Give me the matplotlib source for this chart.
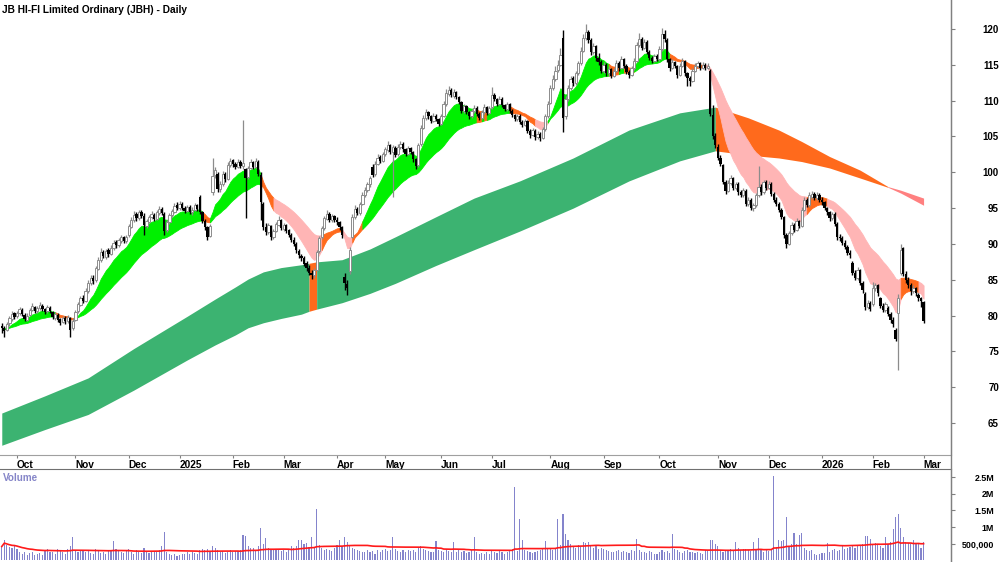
import numpy as np
import pandas as pd
import matplotlib
matplotlib.use('Agg')
import matplotlib.pyplot as plt
from matplotlib.lines import Line2D

plt.rcParams['font.family'] = ['Liberation Sans', 'DejaVu Sans']

# ASX trading days shown on the chart
holidays = ['2024-12-25', '2024-12-26', '2025-01-01', '2025-01-27', '2025-04-18',
            '2025-04-21', '2025-04-25', '2025-06-09', '2025-12-25', '2025-12-26',
            '2026-01-01', '2026-01-26']
dates = pd.bdate_range('2024-09-23', '2026-03-02')
dates = dates[~dates.isin(pd.to_datetime(holidays))]

# daily prices
opens = [
    78.6, 78.3, 78.0, 78.9, 79.5, 80.3, 79.9, 80.3, 80.8, 80.1,
    79.4, 80.1, 80.8, 81.2, 80.6, 81.0, 81.4, 80.9, 80.6, 81.1,
    80.5, 79.7, 80.1, 79.5, 79.1, 79.7, 79.2, 79.6, 78.2, 79.4,
    80.6, 81.5, 82.5, 82.1, 83.4, 84.5, 85.3, 84.9, 86.5, 87.7,
    88.9, 88.2, 89.1, 88.6, 89.4, 90.3, 89.8, 90.4, 90.9, 90.4,
    91.2, 92.4, 93.3, 94.2, 93.6, 94.4, 93.9, 92.5, 93.1, 93.7,
    94.1, 93.5, 94.3, 94.9, 94.2, 91.9, 93.0, 94.0, 94.5, 95.4,
    95.0, 95.6, 95.0, 94.6, 95.2, 94.4, 94.8, 95.4, 96.6, 94.4,
    93.2, 92.3, 91.1, 97.2, 99.6, 99.8, 97.6, 98.4, 99.8, 99.1,
    101.0, 101.7, 101.2, 100.8, 101.4, 100.9, 100.4, 99.3, 100.6, 101.4,
    100.8, 101.5, 99.6, 95.6, 92.4, 91.7, 92.5, 91.0, 91.8, 92.7,
    93.3, 92.1, 92.6, 91.9, 91.2, 90.6, 90.0, 89.0, 88.3, 88.0,
    87.3, 86.7, 86.0, 85.6, 86.4, 89.0, 90.9, 92.2, 93.5, 94.2,
    93.3, 93.9, 93.4, 93.0, 92.3, 85.4, 84.4, 86.2, 91.0, 93.8,
    94.9, 94.3, 95.6, 96.8, 97.5, 98.3, 100.8, 99.7, 101.2, 102.1,
    101.6, 102.5, 103.1, 103.8, 102.9, 103.4, 102.5, 103.5, 104.0, 103.2,
    102.6, 103.4, 102.8, 101.8, 101.0, 103.9, 106.2, 107.6, 108.4, 107.8,
    107.2, 107.9, 107.4, 106.8, 107.9, 109.5, 110.9, 111.5, 110.7, 111.2,
    110.5, 109.8, 108.6, 109.2, 108.4, 107.8, 108.5, 109.0, 108.2, 107.6,
    108.4, 109.1, 108.3, 109.1, 110.8, 110.2, 109.6, 110.3, 109.4, 108.8,
    109.5, 108.6, 108.0, 107.4, 107.9, 107.0, 106.6, 107.1, 105.8, 105.2,
    105.8, 104.9, 105.4, 104.8, 106.0, 107.8, 109.7, 111.8, 113.0, 114.3,
    115.0, 118.8, 107.8, 110.2, 111.8, 113.1, 112.4, 113.8, 115.2, 117.0,
    118.8, 119.6, 118.4, 116.8, 117.6, 116.0, 115.4, 114.2, 115.0, 113.8,
    114.4, 113.5, 114.2, 115.3, 114.6, 115.8, 114.9, 114.0, 113.6, 114.5,
    115.6, 117.8, 118.6, 117.4, 118.2, 116.8, 116.0, 115.6, 116.2, 115.8,
    117.2, 119.3, 118.5, 115.8, 114.6, 115.4, 114.8, 113.6, 114.9, 115.5,
    113.8, 113.2, 112.8, 114.2, 114.8, 115.2, 114.6, 115.0, 114.6, 114.2,
    108.0, 105.0, 103.6, 102.0, 101.0, 98.6, 97.4, 98.5, 99.2, 97.8,
    98.4, 97.2, 96.8, 97.4, 95.6, 96.2, 95.0, 95.4, 96.8, 98.0,
    97.2, 98.6, 97.8, 98.4, 97.0, 96.2, 95.6, 94.8, 93.7, 91.2,
    90.0, 91.5, 92.6, 92.0, 93.2, 92.5, 94.8, 96.2, 95.4, 96.6,
    97.0, 96.4, 96.9, 96.2, 95.8, 95.0, 94.4, 93.6, 94.2, 92.8,
    91.0, 90.8, 90.2, 89.6, 88.8, 87.4, 86.0, 85.2, 86.3, 84.6,
    83.0, 81.2, 81.8, 81.6, 83.8, 84.2, 82.4, 81.4, 80.8, 81.0,
    80.2, 79.4, 78.0, 80.4, 86.0, 89.4, 85.8, 85.0, 84.2, 83.4,
    83.8, 82.9, 82.5, 81.9]

highs = [
    78.9, 78.5, 79.1, 80.0, 80.6, 80.5, 80.7, 81.2, 81.0, 80.3,
    80.3, 81.1, 81.7, 81.4, 81.3, 81.9, 81.6, 81.1, 81.5, 81.3,
    80.7, 80.5, 80.3, 79.7, 79.9, 79.9, 80.1, 79.8, 79.6, 80.8,
    81.9, 82.8, 82.9, 83.8, 85.0, 85.6, 85.7, 86.9, 88.2, 89.4,
    89.2, 89.3, 89.4, 89.8, 90.6, 90.5, 90.8, 91.3, 91.1, 91.3,
    92.8, 93.7, 94.6, 94.4, 94.8, 94.7, 94.3, 93.5, 94.1, 94.6,
    94.3, 94.7, 95.3, 95.1, 94.5, 93.4, 94.3, 94.9, 95.7, 95.8,
    96.0, 95.8, 95.3, 95.5, 95.4, 95.1, 95.7, 95.6, 96.9, 94.6,
    93.5, 92.5, 92.8, 102.0, 100.8, 100.0, 98.8, 100.2, 100.1, 101.4,
    102.0, 101.9, 101.5, 101.8, 101.7, 107.3, 100.6, 100.9, 101.8, 101.6,
    102.0, 101.7, 100.0, 95.8, 92.9, 92.9, 92.7, 92.1, 93.1, 93.9,
    93.5, 92.9, 92.8, 92.1, 91.5, 90.9, 90.3, 89.3, 88.6, 88.3,
    87.6, 87.0, 86.4, 86.6, 89.2, 91.1, 92.5, 93.9, 94.7, 94.4,
    94.2, 94.1, 93.8, 93.2, 92.5, 86.0, 85.0, 89.6, 94.2, 95.4,
    95.2, 95.9, 97.2, 98.0, 98.7, 99.5, 101.1, 101.6, 102.6, 102.4,
    102.9, 103.6, 104.3, 104.0, 103.8, 103.7, 103.9, 104.4, 104.2, 103.4,
    103.7, 103.6, 103.0, 102.0, 104.1, 106.6, 108.0, 108.8, 108.6, 108.0,
    108.3, 108.1, 107.6, 108.1, 109.9, 111.6, 112.0, 111.7, 111.6, 111.4,
    110.7, 110.0, 109.5, 109.4, 108.6, 108.9, 109.4, 109.2, 108.4, 108.7,
    109.5, 109.3, 109.3, 111.9, 111.1, 110.4, 110.7, 110.5, 109.6, 109.8,
    109.7, 108.8, 108.2, 108.2, 108.1, 107.3, 107.5, 107.3, 106.0, 106.2,
    106.0, 105.7, 105.6, 106.3, 108.2, 110.0, 112.2, 113.6, 114.8, 115.7,
    117.3, 119.9, 110.6, 112.2, 113.5, 113.4, 114.2, 115.6, 117.5, 119.3,
    120.7, 119.9, 118.7, 118.0, 117.8, 116.6, 115.7, 115.4, 115.3, 114.8,
    114.6, 114.6, 115.7, 115.5, 116.2, 116.0, 115.1, 114.3, 114.8, 115.9,
    118.2, 119.4, 118.9, 118.6, 118.4, 117.1, 116.3, 116.5, 116.5, 117.6,
    120.1, 119.8, 118.7, 116.0, 115.8, 115.6, 115.0, 115.3, 115.9, 115.7,
    114.0, 113.5, 114.5, 115.2, 115.6, 115.4, 115.4, 115.2, 115.2, 114.4,
    109.4, 105.5, 103.9, 102.4, 101.2, 98.9, 98.9, 99.6, 99.4, 98.7,
    98.6, 97.5, 97.8, 97.6, 96.5, 96.4, 95.7, 97.1, 100.9, 98.3,
    98.9, 98.9, 98.8, 98.6, 97.2, 96.5, 95.8, 95.0, 93.9, 91.5,
    91.8, 93.0, 92.9, 93.6, 93.4, 95.1, 96.6, 96.4, 97.2, 97.4,
    97.2, 97.2, 97.1, 96.5, 96.0, 95.2, 94.6, 94.5, 94.5, 93.0,
    91.4, 91.1, 90.5, 89.8, 89.1, 87.6, 86.4, 86.8, 86.5, 84.8,
    83.3, 82.2, 82.0, 84.7, 84.6, 84.4, 82.6, 81.8, 81.9, 81.3,
    80.5, 79.8, 78.3, 83.0, 90.0, 89.6, 86.2, 85.4, 84.5, 84.2,
    84.0, 83.2, 82.6, 82.0]

lows = [
    77.6, 77.0, 77.8, 78.6, 79.3, 79.5, 79.6, 80.1, 79.9, 79.2,
    79.2, 79.9, 80.6, 80.4, 80.3, 80.8, 80.6, 80.2, 80.4, 80.3,
    79.5, 79.4, 79.1, 78.7, 78.9, 78.8, 79.0, 77.0, 78.0, 79.2,
    80.4, 81.3, 81.7, 81.9, 83.2, 84.2, 84.4, 84.7, 86.3, 87.5,
    88.0, 87.9, 88.2, 88.4, 89.2, 89.5, 89.6, 90.2, 90.1, 90.2,
    91.0, 92.2, 93.1, 93.2, 93.4, 93.6, 91.2, 92.2, 92.9, 93.5,
    93.2, 93.3, 94.1, 94.0, 91.2, 91.7, 92.8, 93.8, 94.3, 94.7,
    94.8, 94.7, 94.3, 94.4, 94.2, 94.1, 94.6, 94.6, 94.2, 92.9,
    92.0, 90.5, 90.9, 96.9, 99.2, 97.2, 97.3, 98.1, 98.6, 98.9,
    100.7, 100.8, 100.5, 100.6, 100.6, 100.4, 93.6, 99.0, 100.4, 100.5,
    100.6, 99.5, 93.4, 92.0, 91.2, 91.4, 90.6, 90.7, 91.6, 92.5,
    91.9, 91.8, 91.5, 90.9, 90.3, 89.7, 88.8, 88.1, 87.6, 86.9,
    86.2, 85.6, 85.1, 85.3, 86.2, 88.8, 90.7, 92.0, 93.3, 93.0,
    93.1, 93.1, 92.7, 92.0, 90.8, 83.6, 82.9, 85.8, 90.8, 93.5,
    94.0, 94.1, 95.4, 96.5, 97.3, 98.0, 99.3, 99.5, 101.0, 101.3,
    101.4, 102.3, 102.9, 102.6, 96.5, 102.1, 102.3, 103.3, 102.9, 102.3,
    102.4, 102.5, 101.5, 100.5, 100.8, 103.7, 106.0, 107.3, 107.5, 106.9,
    107.0, 107.1, 106.4, 106.6, 107.7, 109.3, 110.6, 110.5, 110.4, 110.2,
    109.5, 108.3, 108.3, 108.1, 107.4, 107.6, 108.3, 107.9, 107.3, 107.4,
    108.2, 108.0, 108.1, 108.9, 109.9, 109.3, 109.4, 109.1, 108.5, 108.6,
    108.3, 107.7, 107.1, 107.2, 106.7, 106.3, 106.4, 105.5, 104.8, 105.0,
    104.5, 104.6, 104.4, 104.6, 105.8, 107.6, 109.5, 111.5, 112.8, 114.0,
    114.8, 105.6, 107.4, 109.9, 111.5, 112.0, 112.2, 113.6, 115.0, 116.8,
    118.5, 118.0, 116.4, 116.5, 115.6, 115.0, 113.8, 113.9, 113.4, 113.5,
    113.1, 113.3, 114.0, 114.2, 114.4, 114.6, 113.7, 113.2, 113.4, 114.3,
    115.4, 117.5, 117.1, 117.2, 116.5, 115.7, 115.3, 115.4, 115.5, 115.6,
    117.0, 118.2, 115.4, 114.2, 114.4, 114.5, 113.2, 113.4, 114.7, 113.4,
    112.0, 112.1, 112.6, 114.0, 114.5, 114.3, 114.4, 114.3, 114.4, 107.8,
    104.6, 103.4, 101.7, 100.9, 98.3, 97.0, 97.2, 98.2, 97.5, 97.5,
    96.9, 96.5, 96.6, 95.3, 95.3, 94.7, 94.6, 95.2, 96.6, 96.9,
    97.0, 97.5, 97.6, 96.7, 95.9, 95.3, 94.5, 93.5, 90.8, 89.4,
    89.8, 91.3, 91.7, 91.8, 92.2, 92.3, 94.6, 95.1, 95.2, 96.3,
    96.1, 96.2, 95.9, 95.5, 94.7, 94.0, 93.2, 93.4, 92.5, 90.6,
    90.4, 89.9, 89.3, 88.5, 88.1, 85.6, 84.9, 85.0, 84.3, 83.2,
    80.8, 80.9, 80.6, 81.4, 83.4, 82.8, 81.1, 80.5, 80.5, 79.9,
    79.0, 78.4, 76.4, 72.4, 85.6, 85.5, 84.6, 83.8, 82.9, 83.1,
    82.8, 82.0, 81.2, 78.9]

closes = [
    78.2, 77.9, 78.8, 79.6, 80.2, 79.8, 80.4, 80.9, 80.2, 79.5,
    80.0, 80.8, 81.3, 80.7, 81.0, 81.5, 80.9, 80.5, 81.2, 80.6,
    79.8, 80.2, 79.4, 79.0, 79.6, 79.2, 79.8, 78.0, 79.3, 80.5,
    81.6, 82.4, 82.0, 83.5, 84.6, 85.2, 84.8, 86.6, 87.8, 88.9,
    88.3, 89.0, 88.6, 89.5, 90.2, 89.8, 90.5, 90.9, 90.4, 91.0,
    92.5, 93.4, 94.1, 93.6, 94.4, 93.9, 92.6, 93.2, 93.8, 94.2,
    93.5, 94.4, 94.9, 94.3, 91.8, 93.1, 94.0, 94.6, 95.3, 95.0,
    95.6, 95.0, 94.6, 95.2, 94.5, 94.8, 95.4, 94.9, 94.5, 93.2,
    92.4, 91.0, 92.5, 99.5, 100.3, 97.6, 98.4, 99.8, 99.0, 101.0,
    101.6, 101.2, 100.8, 101.5, 100.9, 101.3, 99.2, 100.6, 101.4, 100.8,
    101.6, 99.8, 95.8, 92.4, 91.6, 92.6, 91.0, 91.8, 92.8, 93.4,
    92.2, 92.6, 91.8, 91.2, 90.6, 90.0, 89.1, 88.4, 88.0, 87.2,
    86.6, 86.0, 85.6, 86.3, 88.9, 90.8, 92.2, 93.6, 94.2, 93.3,
    93.9, 93.4, 93.0, 92.4, 91.2, 84.6, 83.8, 89.2, 93.8, 94.9,
    94.3, 95.6, 96.8, 97.5, 98.3, 99.2, 99.6, 101.2, 102.0, 101.6,
    102.5, 103.2, 103.8, 102.9, 103.5, 102.4, 103.6, 104.0, 103.2, 102.6,
    103.4, 102.8, 101.8, 100.9, 103.8, 106.2, 107.6, 108.4, 107.8, 107.2,
    107.9, 107.4, 106.8, 107.8, 109.5, 111.0, 111.5, 110.8, 111.2, 110.5,
    109.8, 108.6, 109.2, 108.4, 107.8, 108.6, 109.0, 108.2, 107.6, 108.4,
    109.1, 108.3, 109.0, 110.8, 110.2, 109.6, 110.3, 109.4, 108.8, 109.5,
    108.6, 108.0, 107.4, 107.9, 107.0, 106.6, 107.2, 105.8, 105.2, 105.9,
    104.9, 105.4, 104.8, 106.0, 107.8, 109.6, 111.8, 113.0, 114.2, 115.0,
    116.4, 107.6, 110.2, 111.8, 113.0, 112.4, 113.8, 115.2, 117.0, 118.8,
    119.6, 118.4, 116.8, 117.6, 116.0, 115.4, 114.2, 115.0, 113.8, 114.4,
    113.5, 114.2, 115.3, 114.6, 115.8, 114.9, 114.0, 113.6, 114.5, 115.6,
    117.8, 118.6, 117.4, 118.2, 116.8, 116.0, 115.6, 116.2, 115.8, 117.2,
    119.3, 118.6, 115.8, 114.6, 115.4, 114.8, 113.6, 114.9, 115.5, 113.8,
    113.2, 112.8, 114.2, 114.8, 115.2, 114.6, 115.0, 114.6, 114.9, 108.2,
    105.0, 103.8, 102.0, 101.2, 98.6, 97.4, 98.5, 99.2, 97.8, 98.4,
    97.2, 96.8, 97.5, 95.6, 96.2, 95.0, 95.4, 96.8, 98.0, 97.2,
    98.6, 97.8, 98.4, 97.0, 96.2, 95.6, 94.8, 93.8, 91.2, 90.0,
    91.5, 92.6, 92.0, 93.2, 92.5, 94.8, 96.2, 95.4, 96.8, 97.0,
    96.4, 96.9, 96.2, 95.8, 95.0, 94.4, 93.6, 94.2, 92.8, 91.0,
    90.8, 90.2, 89.6, 88.8, 88.4, 86.0, 85.2, 86.4, 84.6, 83.6,
    81.2, 81.8, 80.9, 83.8, 84.2, 83.2, 81.4, 80.8, 81.6, 80.2,
    79.4, 78.8, 76.8, 82.4, 89.2, 85.8, 85.0, 84.2, 83.4, 83.8,
    83.2, 82.4, 82.0, 79.2]

# daily volume, thousands of shares
volumes_k = [
    420, 620, 450, 400, 380, 420, 330, 260, 200, 240,
    170, 210, 260, 150, 180, 220, 160, 300, 350, 260,
    250, 200, 330, 280, 240, 190, 350, 420, 710, 300,
    260, 310, 280, 240, 300, 220, 180, 330, 270, 210,
    250, 190, 280, 320, 590, 330, 280, 240, 220, 300,
    350, 240, 200, 310, 260, 230, 380, 290, 220, 260,
    280, 250, 300, 420, 840, 260, 180, 150, 190, 130,
    170, 200, 180, 240, 190, 260, 230, 200, 300, 330,
    310, 350, 280, 420, 380, 300, 250, 280, 230, 260,
    300, 250, 270, 280, 320, 760, 740, 420, 360, 380,
    300, 420, 980, 500, 680, 380, 320, 350, 300, 330,
    280, 300, 260, 340, 420, 380, 440, 620, 600, 480,
    520, 400, 700, 380, 1530, 450, 380, 300, 340, 320,
    280, 360, 450, 600, 420, 700, 560, 420, 380, 330,
    300, 280, 250, 260, 300, 240, 280, 200, 320, 260,
    300, 350, 280, 320, 710, 330, 280, 250, 300, 260,
    310, 280, 300, 260, 380, 420, 350, 300, 280, 250,
    240, 590, 300, 270, 250, 330, 280, 240, 560, 260,
    300, 250, 280, 220, 260, 300, 700, 240, 200, 230,
    180, 250, 200, 300, 260, 220, 280, 250, 200, 240,
    300, 350, 2200, 280, 1230, 600, 300, 280, 250, 230,
    260, 280, 300, 330, 570, 350, 340, 300, 380, 1230,
    460, 1380, 780, 600, 500, 420, 380, 450, 400, 560,
    520, 540, 460, 380, 420, 350, 380, 330, 300, 280,
    260, 250, 280, 300, 240, 280, 260, 230, 300, 280,
    650, 300, 260, 240, 220, 280, 250, 200, 180, 240,
    300, 260, 280, 230, 800, 330, 300, 250, 220, 270,
    300, 260, 240, 220, 250, 230, 200, 300, 280, 620,
    600, 500, 420, 300, 250, 280, 320, 350, 300, 540,
    380, 300, 350, 330, 320, 280, 550, 300, 660, 330,
    260, 300, 280, 330, 2530, 400, 600, 580, 610, 1300,
    420, 500, 810, 480, 760, 830, 380, 320, 280, 300,
    200, 160, 180, 210, 230, 510, 260, 300, 330, 280,
    300, 420, 350, 380, 400, 450, 380, 420, 460, 500,
    740, 740, 650, 480, 520, 460, 420, 380, 700, 480,
    560, 950, 1300, 1380, 980, 700, 560, 520, 480, 600,
    500, 520, 380, 560]

# long-term band edges (bar index, upper, lower)
long_idx = [0, 17, 34, 52, 73, 84, 92, 97, 103, 110, 118, 121, 124, 134, 145, 155,
            171, 186, 204, 225, 247, 267, 281, 294, 306, 315, 326, 338, 349, 354, 363]
long_top = [66.4, 68.8, 71.3, 75.4, 79.9, 82.3, 84.0, 85.1, 86.1, 86.7, 87.1, 87.3,
            87.5, 87.8, 89.3, 91.0, 93.8, 96.4, 98.8, 102.0, 105.9, 108.3, 109.1,
            107.6, 105.9, 104.3, 102.2, 100.3, 98.0, 97.5, 96.4]
long_bot = [61.9, 64.1, 66.2, 69.6, 73.8, 75.9, 77.3, 78.3, 79.0, 79.6, 80.2, 80.6,
            80.9, 81.8, 83.1, 84.5, 87.0, 89.2, 91.8, 95.0, 98.8, 101.6, 103.0,
            102.4, 102.0, 101.5, 100.6, 99.2, 97.9, 97.1, 95.4]
long_phases = [(0, 121, 'up'), (121, 124, 'mixed'), (124, 281, 'up'),
               (281, 349, 'mixed'), (349, 363, 'down')]

short_periods = [10, 12, 15, 19, 24, 30]

n = len(dates)
x = np.arange(n)
o = np.array(opens)
h = np.array(highs)
l = np.array(lows)
c = np.array(closes)
vol = np.array(volumes_k) * 1000.0

fig = plt.figure(figsize=(10, 5.62), dpi=100)
ax = fig.add_axes([0, 107 / 562, 0.951, 455 / 562])
axv = fig.add_axes([0, 0, 0.951, 93 / 562])

# long band
long_col = {'up': '#3cb371', 'mixed': '#ff6a1c', 'down': '#ff8080'}
li = np.array(long_idx)
for a, b, st in long_phases:
    m = (li >= a) & (li <= b)
    ax.fill_between(li[m], np.array(long_bot)[m], np.array(long_top)[m],
                    color=long_col[st], lw=0, zorder=1)

# short band from the closes
emas = np.array([pd.Series(c).ewm(span=p, adjust=False).mean().values for p in short_periods])
d = np.diff(emas, axis=0)
state = np.where((d < 0).all(axis=0), 0, np.where((d > 0).all(axis=0), 2, 1))
hi = emas.max(axis=0)
lo = emas.min(axis=0)
short_col = {0: '#00f000', 1: '#ff6a1c', 2: '#ffb5b5'}
start = 0
for i in range(1, n + 1):
    if i == n or state[i] != state[start]:
        a = max(start - 1, 0)
        ax.fill_between(x[a:i], lo[a:i], hi[a:i], color=short_col[state[start]],
                        lw=0.6, edgecolor=short_col[state[start]], zorder=2)
        start = i

# candles
up = c >= o
ax.vlines(x[up], l[up], h[up], color='#8c8c8c', lw=0.9, zorder=3)
ax.vlines(x[~up], l[~up], h[~up], color='black', lw=1.0, zorder=3)
ax.bar(x[up], c[up] - o[up], bottom=o[up], width=0.9, facecolor='white',
       edgecolor='#8c8c8c', lw=0.7, zorder=4)
ax.bar(x[~up], o[~up] - c[~up], bottom=c[~up], width=0.9, color='black', lw=0, zorder=4)

ax.set_xlim(-0.7, 373.8)
ax.set_ylim(60.54, 124.05)

# month axis
month_start = [i for i in range(1, n) if dates[i].month != dates[i - 1].month]
labels = [str(dt.year) if dt.month == 1 else dt.strftime('%b') for dt in dates[month_start]]
ax.set_xticks(month_start)
ax.set_xticklabels(labels, ha='left', fontsize=7.3, fontweight='bold')
ax.tick_params(axis='x', length=2, width=0.8, color='#808080', pad=1.5)

ax.yaxis.tick_right()
ax.set_yticks(range(65, 121, 5))
ax.tick_params(axis='y', length=3, width=0.8, color='#808080', pad=31.5, labelsize=7)
for t in ax.get_yticklabels():
    t.set_horizontalalignment('right')
    t.set_fontweight('bold')

for s in ['top', 'left']:
    ax.spines[s].set_visible(False)
ax.spines['bottom'].set_color('#a0a0a0')
ax.spines['right'].set_color('#808080')

# volume panel
axv.bar(x, vol, width=0.45, color='#8484cc', lw=0)
vma = pd.Series(vol).rolling(50, min_periods=1).mean()
axv.plot(x, vma, color='#ff1a1a', lw=1.2)
axv.set_xlim(-0.7, 373.8)
axv.set_ylim(-45000, 2.74e6)
axv.set_xticks([])
axv.yaxis.tick_right()
axv.set_yticks([500000, 1000000, 1500000, 2000000, 2500000])
axv.set_yticklabels(['500,000', '1M', '1.5M', '2M', '2.5M'])
axv.tick_params(axis='y', length=3, width=0.8, color='#808080', pad=28, labelsize=6.4)
for t in axv.get_yticklabels():
    t.set_horizontalalignment('right')
    t.set_fontweight('bold')
for s in ['bottom', 'left']:
    axv.spines[s].set_visible(False)
axv.spines['top'].set_color('#707070')
axv.spines['right'].set_color('#808080')

fig.add_artist(Line2D([0.951, 0.951], [0, 1], color='#808080', lw=1,
                      transform=fig.transFigure))

fig.text(0.002, 1 - 10 / 562, 'JB HI-FI Limited Ordinary (JBH) - Daily',
         fontsize=7.3, fontweight='bold', va='center', ha='left')
fig.text(0.003, 1 - 478 / 562, 'Volume', color='#8585c8', fontsize=7.1,
         fontweight='bold', va='center', ha='left')

fig.savefig('out.png', dpi=100)
